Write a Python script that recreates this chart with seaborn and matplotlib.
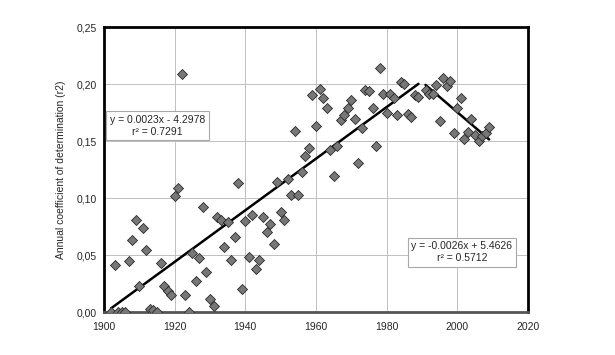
import numpy as np
import pandas as pd
import seaborn as sns
import matplotlib.pyplot as plt

# Annual r2 values
years_1 = [1902, 1903, 1904, 1905, 1906, 1907, 1908, 1909, 1910, 1911,
           1912, 1913, 1914, 1915, 1916, 1917, 1918, 1919, 1920, 1921,
           1922, 1923, 1924, 1925, 1926, 1927, 1928, 1929, 1930, 1931,
           1932, 1933, 1934, 1935, 1936, 1937, 1938, 1939, 1940, 1941,
           1942, 1943, 1944, 1945, 1946, 1947, 1948, 1949, 1950, 1951,
           1952, 1953, 1954, 1955, 1956, 1957, 1958, 1959, 1960, 1961,
           1962, 1963, 1964, 1965, 1966, 1967, 1968, 1969, 1970, 1971,
           1972, 1973, 1974, 1975, 1976, 1977, 1978, 1979, 1980, 1981,
           1982, 1983, 1984, 1985, 1986, 1987, 1988, 1989]
r2_1 = [0.000, 0.041, 0.000, 0.000, 0.000, 0.045, 0.063, 0.081, 0.0225, 0.074,
        0.054, 0.003, 0.002, 0.000, 0.043, 0.023, 0.018, 0.0146, 0.102, 0.1085,
        0.209, 0.015, 0.000, 0.052, 0.0275, 0.047, 0.092, 0.035, 0.011, 0.005,
        0.083, 0.081, 0.057, 0.079, 0.046, 0.066, 0.113, 0.020, 0.080, 0.048,
        0.085, 0.038, 0.046, 0.083, 0.0705, 0.077, 0.060, 0.114, 0.088, 0.081,
        0.117, 0.103, 0.159, 0.1026, 0.123, 0.137, 0.144, 0.190, 0.163, 0.196,
        0.1875, 0.179, 0.142, 0.119, 0.146, 0.168, 0.173, 0.179, 0.186, 0.169,
        0.131, 0.161, 0.1945, 0.1935, 0.179, 0.1455, 0.214, 0.191, 0.175, 0.191,
        0.1875, 0.173, 0.202, 0.200, 0.174, 0.171, 0.190, 0.189]

years_2 = [1991, 1992, 1993, 1994, 1995, 1996, 1997, 1998, 1999, 2000,
           2001, 2002, 2003, 2004, 2005, 2006, 2007, 2008, 2009]
r2_2 = [0.195, 0.191, 0.191, 0.199, 0.1675, 0.205, 0.198, 0.203, 0.157, 0.179,
        0.1875, 0.152, 0.158, 0.169, 0.155, 0.150, 0.154, 0.157, 0.1625]

eq_1 = "y = 0.0023x - 4.2978\nr² = 0.7291"
eq_2 = "y = -0.0026x + 5.4626\nr² = 0.5712"

x_ticks = [1900, 1920, 1940, 1960, 1980, 2000, 2020]
y_ticks = [0.00, 0.05, 0.10, 0.15, 0.20, 0.25]
y_tick_labels = ["0,00", "0,05", "0,10", "0,15", "0,20", "0,25"]

df1 = pd.DataFrame({"year": years_1, "r2": r2_1})
df2 = pd.DataFrame({"year": years_2, "r2": r2_2})
df = pd.concat([df1, df2], ignore_index=True)

sns.set_style("white")
plt.rcParams['font.family'] = ['Liberation Sans', 'DejaVu Sans']

fig = plt.figure(figsize=(6.15, 3.55), dpi=100)
ax = fig.add_axes([0.1691, 0.1211, 0.6894, 0.8028])

# trend lines (linear fit per period)
for d in (df1, df2):
    sns.regplot(ax=ax, data=d, x="year", y="r2", scatter=False, ci=None,
                truncate=True, line_kws={"color": "black", "lw": 1.8, "zorder": 2})

sns.scatterplot(ax=ax, data=df, x="year", y="r2", marker="D", s=26,
                color="#777777", edgecolor="#2a2a2a", linewidth=0.6, zorder=3)

ax.set(xlim=(1900, 2020), ylim=(0, 0.25), xlabel='', ylabel='')
ax.set_xticks(x_ticks)
ax.set_yticks(y_ticks)
ax.set_yticklabels(y_tick_labels)
ax.grid(True, color="#c0c0c0", lw=0.7)
ax.set_axisbelow(True)
ax.set_ylabel("Annual coefficient of determination (r2)", fontsize=7.5, labelpad=8)
ax.tick_params(axis='both', labelsize=7.5, length=3, width=0.8, direction='out')
ax.tick_params(axis='x', color="#666666", pad=4)
ax.tick_params(axis='y', color="black", pad=2)

for side in ['left', 'top', 'right']:
    ax.spines[side].set_color('black')
    ax.spines[side].set_linewidth(2)
ax.spines['bottom'].set_color('#555555')
ax.spines['bottom'].set_linewidth(2)

box = dict(boxstyle="square,pad=0.35", facecolor="white", edgecolor="#a8a8a8", lw=0.8)
ax.text(0.126, 0.653, eq_1, transform=ax.transAxes, ha='center', va='center',
        fontsize=7.5, bbox=box, linespacing=1.2, zorder=4)
ax.text(0.844, 0.21, eq_2, transform=ax.transAxes, ha='center', va='center',
        fontsize=7.5, bbox=box, linespacing=1.2, zorder=4)

plt.savefig('out.png', dpi=100)
plt.close(fig)
